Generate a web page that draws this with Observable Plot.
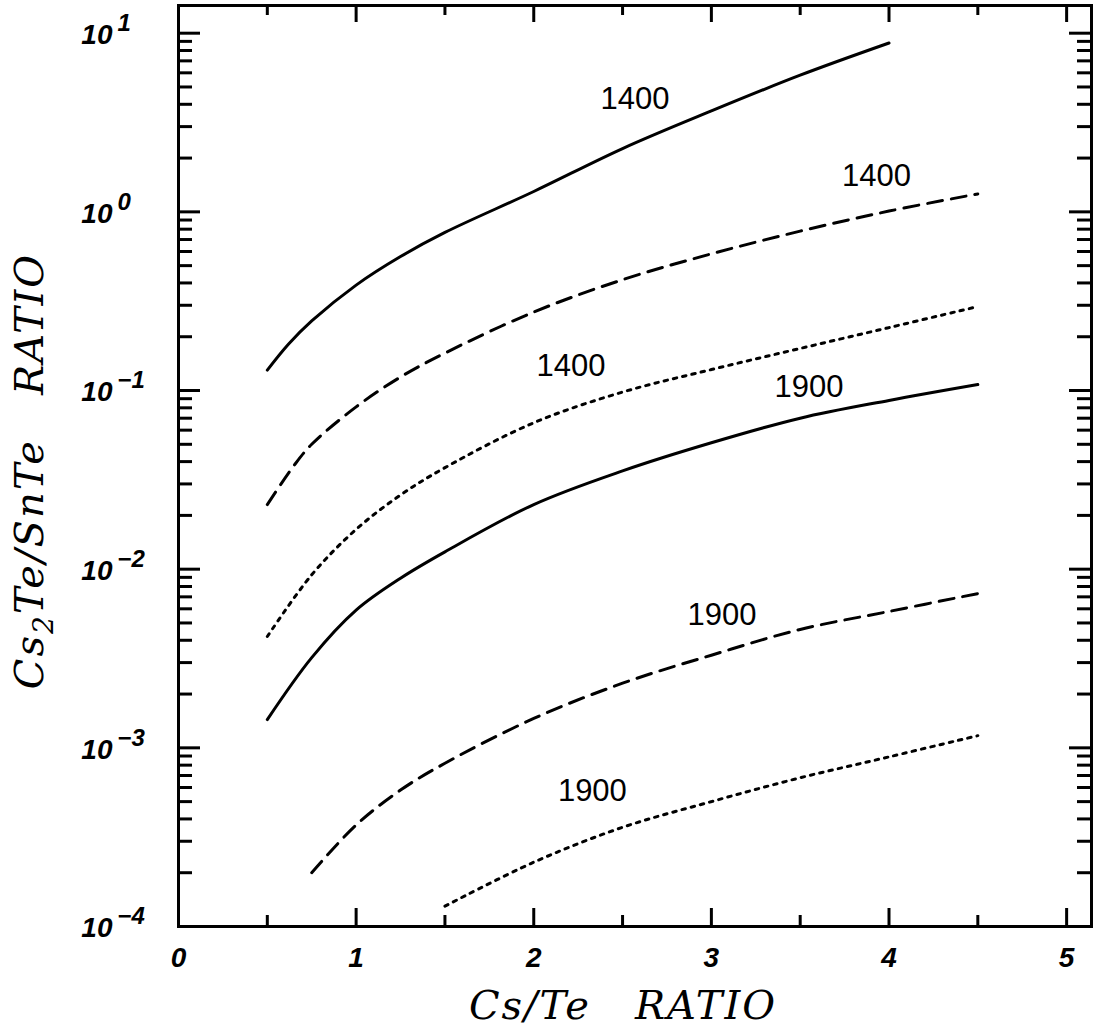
<!DOCTYPE html>
<html>
<head>
<meta charset="utf-8">
<script src="https://cdn.jsdelivr.net/npm/d3@7"></script>
<script src="https://cdn.jsdelivr.net/npm/@observablehq/plot@0.6"></script>
<style>
  body { margin: 0; background: #fff; }
  #chart svg { display: block; }
</style>
</head>
<body>
<div id="chart"></div>
<script>
// Cs2Te/SnTe ratio versus Cs/Te ratio at 1400 K and 1900 K (three cases each)
const x1400Solid  = [0.5, 0.62, 0.75, 1.0, 1.25, 1.5, 2.0, 2.5, 3.0, 3.5, 4.0];
const y1400Solid  = [0.13, 0.182, 0.245, 0.389, 0.562, 0.767, 1.30, 2.26, 3.67, 5.82, 8.81];

const x1400Dashed = [0.5, 0.65, 0.75, 1.0, 1.25, 1.5, 2.0, 2.5, 3.0, 3.5, 4.0, 4.5];
const y1400Dashed = [0.023, 0.038, 0.05, 0.081, 0.119, 0.162, 0.275, 0.417, 0.582, 0.78, 1.01, 1.26];

const x1400Dotted = [0.5, 0.75, 1.0, 1.25, 1.5, 2.0, 2.5, 3.0, 3.5, 4.0, 4.5];
const y1400Dotted = [0.0042, 0.0093, 0.0167, 0.026, 0.037, 0.066, 0.098, 0.131, 0.172, 0.225, 0.295];

const x1900Solid  = [0.5, 0.75, 1.0, 1.25, 1.5, 2.0, 2.5, 3.0, 3.5, 4.0, 4.5];
const y1900Solid  = [0.00144, 0.0032, 0.0059, 0.0089, 0.0125, 0.023, 0.0355, 0.051, 0.07, 0.088, 0.108];

const x1900Dashed = [0.75, 1.0, 1.25, 1.5, 2.0, 2.5, 3.0, 3.5, 4.0, 4.5];
const y1900Dashed = [0.0002, 0.00037, 0.00058, 0.00082, 0.00146, 0.0023, 0.0033, 0.0046, 0.0058, 0.0073];

const x1900Dotted = [1.5, 2.0, 2.5, 3.0, 3.5, 4.0, 4.5];
const y1900Dotted = [0.00013, 0.000229, 0.000359, 0.0005, 0.00068, 0.00089, 0.00117];

// curve labels (temperature, K)
const labelText = ["1400", "1400", "1400", "1900", "1900", "1900"];
const labelX    = [2.57, 3.93, 2.21, 3.55, 3.06, 2.33];
const labelY    = [4.27, 1.585, 0.137, 0.104, 0.0055, 0.00057];

// axis ticks
const xTickLabels = [0, 1, 2, 3, 4, 5];
const xMajor = [1, 2, 3, 4, 5];
const xMinor = [0.5, 1.5, 2.5, 3.5, 4.5];
const yExponents = [-4, -3, -2, -1, 0, 1];

const xTitle = "Cs/Te\u00a0\u00a0\u00a0RATIO";
const yTitle = "Cs2Te/SnTe\u00a0\u00a0\u00a0RATIO";

const toRows = (xs, ys) => xs.map((x, i) => ({x, y: ys[i]}));
const yMajor = yExponents.map(e => 10 ** e);
const yMinor = yExponents.slice(0, -1).flatMap(e => d3.range(2, 10).map(m => m * 10 ** e));
const labels = labelText.map((t, i) => ({text: t, x: labelX[i], y: labelY[i]}));

const width = 1099, height = 1032;
const margin = {top: 5, right: 8, bottom: 106, left: 178};
const W = width - margin.left - margin.right;
const H = height - margin.top - margin.bottom;

const tickFont = {fontFamily: "Liberation Sans, Arial, sans-serif", fontStyle: "italic", fontWeight: "bold", fill: "black"};
const titleFont = {fontFamily: "DejaVu Serif, serif", fontStyle: "italic", fontSize: 40, fill: "black"};
const lineStyle = {x: "x", y: "y", stroke: "black", strokeWidth: 3, curve: "catmull-rom"};
const tickStyle = {stroke: "black", strokeWidth: 3};

const chart = Plot.plot({
  width, height,
  marginTop: margin.top, marginRight: margin.right,
  marginBottom: margin.bottom, marginLeft: margin.left,
  style: {background: "white", overflow: "visible"},
  x: {domain: [0, 5.14], axis: null},
  y: {type: "log", domain: [1e-4, 10 ** 1.155], axis: null},
  marks: [
    // curves
    Plot.line(toRows(x1400Solid, y1400Solid), lineStyle),
    Plot.line(toRows(x1400Dashed, y1400Dashed), {...lineStyle, strokeDasharray: "15,9"}),
    Plot.line(toRows(x1400Dotted, y1400Dotted), {...lineStyle, strokeDasharray: "3.5,6"}),
    Plot.line(toRows(x1900Solid, y1900Solid), lineStyle),
    Plot.line(toRows(x1900Dashed, y1900Dashed), {...lineStyle, strokeDasharray: "15,9"}),
    Plot.line(toRows(x1900Dotted, y1900Dotted), {...lineStyle, strokeDasharray: "3.5,6"}),

    // curve labels
    Plot.text(labels, {x: "x", y: "y", text: "text", fontSize: 31,
      fontFamily: "Liberation Sans, Arial, sans-serif", fill: "black"}),

    // inward ticks on all four sides
    Plot.tickX(xMajor, {x: d => d, insetTop: H - 18, ...tickStyle}),
    Plot.tickX(xMinor, {x: d => d, insetTop: H - 11, ...tickStyle}),
    Plot.tickX(xMajor, {x: d => d, insetBottom: H - 17, ...tickStyle}),
    Plot.tickX(xMinor, {x: d => d, insetBottom: H - 10, ...tickStyle}),
    Plot.tickY(yMajor, {y: d => d, insetRight: W - 22, ...tickStyle}),
    Plot.tickY(yMinor, {y: d => d, insetRight: W - 14, ...tickStyle}),
    Plot.tickY(yMajor, {y: d => d, insetLeft: W - 22, ...tickStyle}),
    Plot.tickY(yMinor, {y: d => d, insetLeft: W - 14, ...tickStyle}),

    Plot.frame({stroke: "black", strokeWidth: 3}),

    // x tick labels
    Plot.text(xTickLabels, {x: d => d, text: d => String(d), frameAnchor: "bottom",
      dy: 32, lineAnchor: "middle", fontSize: 28, ...tickFont}),

    // y tick labels: mantissa and raised exponent
    Plot.text(yExponents, {y: e => 10 ** e, text: () => "10", frameAnchor: "left",
      textAnchor: "end", dx: -66, dy: 2, lineAnchor: "middle", fontSize: 28, ...tickFont}),
    Plot.text(yExponents, {y: e => 10 ** e, text: e => (e < 0 ? "\u2212" + (-e) : String(e)),
      frameAnchor: "left", textAnchor: "start", dx: -61, dy: -10, lineAnchor: "middle",
      fontSize: 24, ...tickFont}),

    // axis titles
    Plot.text([xTitle], {text: d => d, frameAnchor: "bottom", textAnchor: "middle",
      dx: -12, dy: 80, lineAnchor: "middle", ...titleFont}),
    Plot.text([yTitle], {text: d => d, frameAnchor: "left", textAnchor: "middle",
      rotate: -90, dx: -148, dy: 5, lineAnchor: "middle", ...titleFont})
  ]
});

// title styling: wider tracking, and the 2 in Cs2Te as a subscript
d3.select(chart).selectAll("text").each(function () {
  const content = this.textContent;
  if (content === xTitle || content === yTitle) {
    d3.select(this).attr("letter-spacing", 2);
  }
  if (content === yTitle) {
    const t = d3.select(this);
    t.text(null);
    t.append("tspan").text("Cs");
    t.append("tspan").attr("dy", 10).attr("font-size", 28).text("2");
    t.append("tspan").attr("dy", -10).text(yTitle.slice(3));
  }
});

document.getElementById("chart").appendChild(chart);
</script>
</body>
</html>
